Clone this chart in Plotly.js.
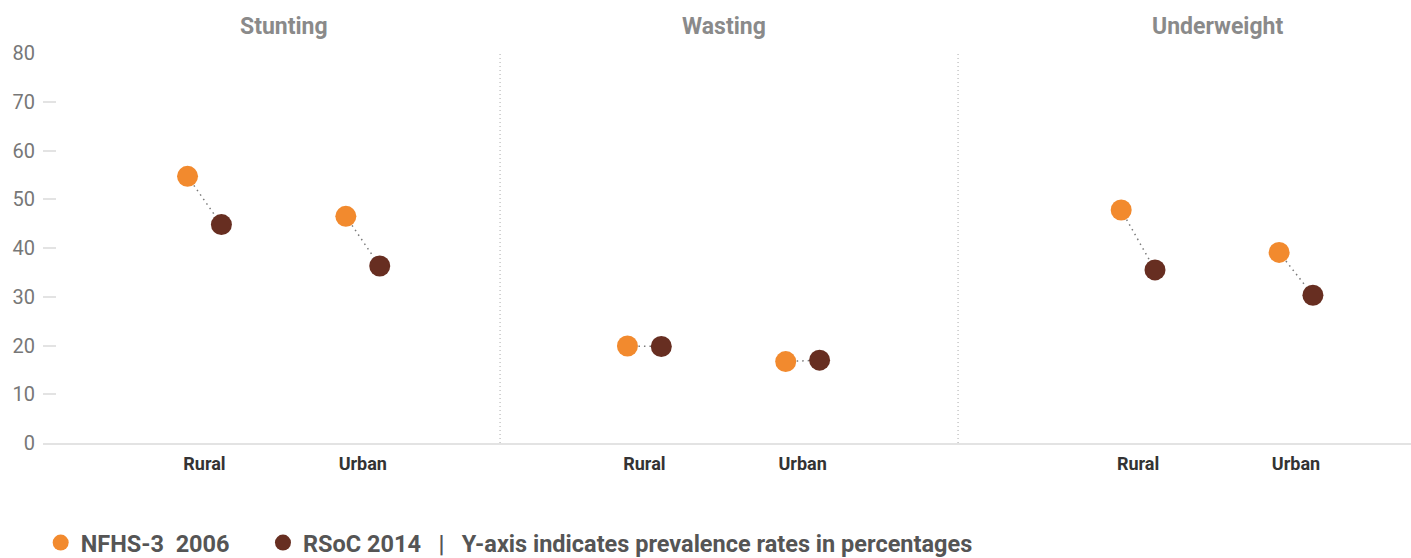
<!DOCTYPE html>
<html>
<head>
<meta charset="utf-8">
<script src="https://cdn.plot.ly/plotly-3.0.1.min.js"></script>
<style>html,body{margin:0;padding:0;background:#fff;}#chart{width:1411px;height:558px;}</style>
</head>
<body>
<div id="chart"></div>
<script>
// ---- data ----
const groups = ["Stunting", "Wasting", "Underweight"];
const areas = ["Rural", "Urban"];
const nfhsStunting = [54.7, 46.5];
const rsocStunting = [44.8, 36.3];
const nfhsWasting = [19.9, 16.7];
const rsocWasting = [19.8, 17.0];
const nfhsUnderweight = [47.8, 39.1];
const rsocUnderweight = [35.5, 30.3];
const yTicks = [0, 10, 20, 30, 40, 50, 60, 70, 80];
const seriesNames = ["NFHS-3\u00a0\u00a02006", "RSoC 2014\u00a0\u00a0\u00a0|\u00a0\u00a0\u00a0Y-axis indicates prevalence rates in percentages"];

const nfhsAll = [nfhsStunting, nfhsWasting, nfhsUnderweight];
const rsocAll = [rsocStunting, rsocWasting, rsocUnderweight];

// ---- style ----
const cNFHS = "#F28A2E";
const cRSOC = "#672E21";
const off = 0.107;
const domains = [[0, 0.3341], [0.3341, 0.6689], [0.6689, 1]];
const ranges = [[-1.020, 1.867], [-0.912, 1.982], [-1.140, 1.728]];
const F = "Roboto, 'Open Sans', sans-serif";

const traces = [];
groups.forEach((g, gi) => {
  const xa = gi === 0 ? "x" : "x" + (gi + 1);
  const lx = [], ly = [];
  areas.forEach((a, i) => {
    lx.push(i - off, i + off, null);
    ly.push(nfhsAll[gi][i], rsocAll[gi][i], null);
  });
  traces.push({
    type: "scatter", mode: "lines", x: lx, y: ly, xaxis: xa, yaxis: "y",
    line: {color: "#7a7a7a", width: 1.5, dash: "1.5px,4px"},
    showlegend: false, hoverinfo: "skip"
  });
});
groups.forEach((g, gi) => {
  const xa = gi === 0 ? "x" : "x" + (gi + 1);
  traces.push({
    type: "scatter", mode: "markers",
    x: areas.map((a, i) => i - off), y: nfhsAll[gi], xaxis: xa, yaxis: "y",
    name: seriesNames[0], legend: "legend", showlegend: gi === 0,
    marker: {color: cNFHS, size: 21, line: {width: 0}}
  });
  traces.push({
    type: "scatter", mode: "markers",
    x: areas.map((a, i) => i + off), y: rsocAll[gi], xaxis: xa, yaxis: "y",
    name: seriesNames[1], legend: "legend2", showlegend: gi === 0,
    marker: {color: cRSOC, size: 21, line: {width: 0}}
  });
});

const legendBase = {
  orientation: "h", xanchor: "left", y: -0.256, yanchor: "middle",
  font: {family: F, size: 23.5, color: "#555555", weight: 700},
  itemsizing: "trace", bgcolor: "rgba(0,0,0,0)"
};

const layout = {
  width: 1411, height: 558,
  margin: {l: 43, r: 0, t: 53, b: 115, autoexpand: false},
  paper_bgcolor: "#fff", plot_bgcolor: "#fff",
  font: {family: F},
  showlegend: true,
  legend: Object.assign({}, legendBase, {x: -0.0017}),
  legend2: Object.assign({}, legendBase, {x: 0.1608}),
  yaxis: {
    range: [0, 80], tickvals: yTicks, ticktext: yTicks.map(String),
    showgrid: false, zeroline: false, showline: false,
    ticks: "inside", ticklen: 13, tickwidth: 2, tickcolor: "#e3e3e3",
    ticklabelstandoff: 7,
    tickfont: {family: F, size: 20, color: "#777777"},
    fixedrange: true
  },
  annotations: [],
  shapes: []
};

groups.forEach((g, gi) => {
  const key = gi === 0 ? "xaxis" : "xaxis" + (gi + 1);
  layout[key] = {
    domain: domains[gi], range: ranges[gi], anchor: "y",
    tickvals: areas.map((a, i) => i), ticktext: areas,
    showgrid: false, zeroline: false,
    showline: true, linecolor: "#e3e3e3", linewidth: 2,
    ticks: "", ticklabelstandoff: 3,
    tickfont: {family: F, size: 18, color: "#333333", weight: 700},
    fixedrange: true
  };
  layout.annotations.push({
    text: g, xref: gi === 0 ? "x" : "x" + (gi + 1), yref: "paper",
    x: 0.5, y: 1, yshift: 27, yanchor: "middle", showarrow: false,
    font: {family: F, size: 23, color: "#8a8a8a", weight: 700}
  });
  if (gi > 0) {
    layout.shapes.push({
      type: "line", xref: "paper", yref: "paper",
      x0: domains[gi][0], x1: domains[gi][0], y0: 0, y1: 1,
      line: {color: "#aaaaaa", width: 1, dash: "1px,3px"}
    });
  }
});

Plotly.newPlot("chart", traces, layout, {displayModeBar: false, staticPlot: true});
</script>
</body>
</html>
